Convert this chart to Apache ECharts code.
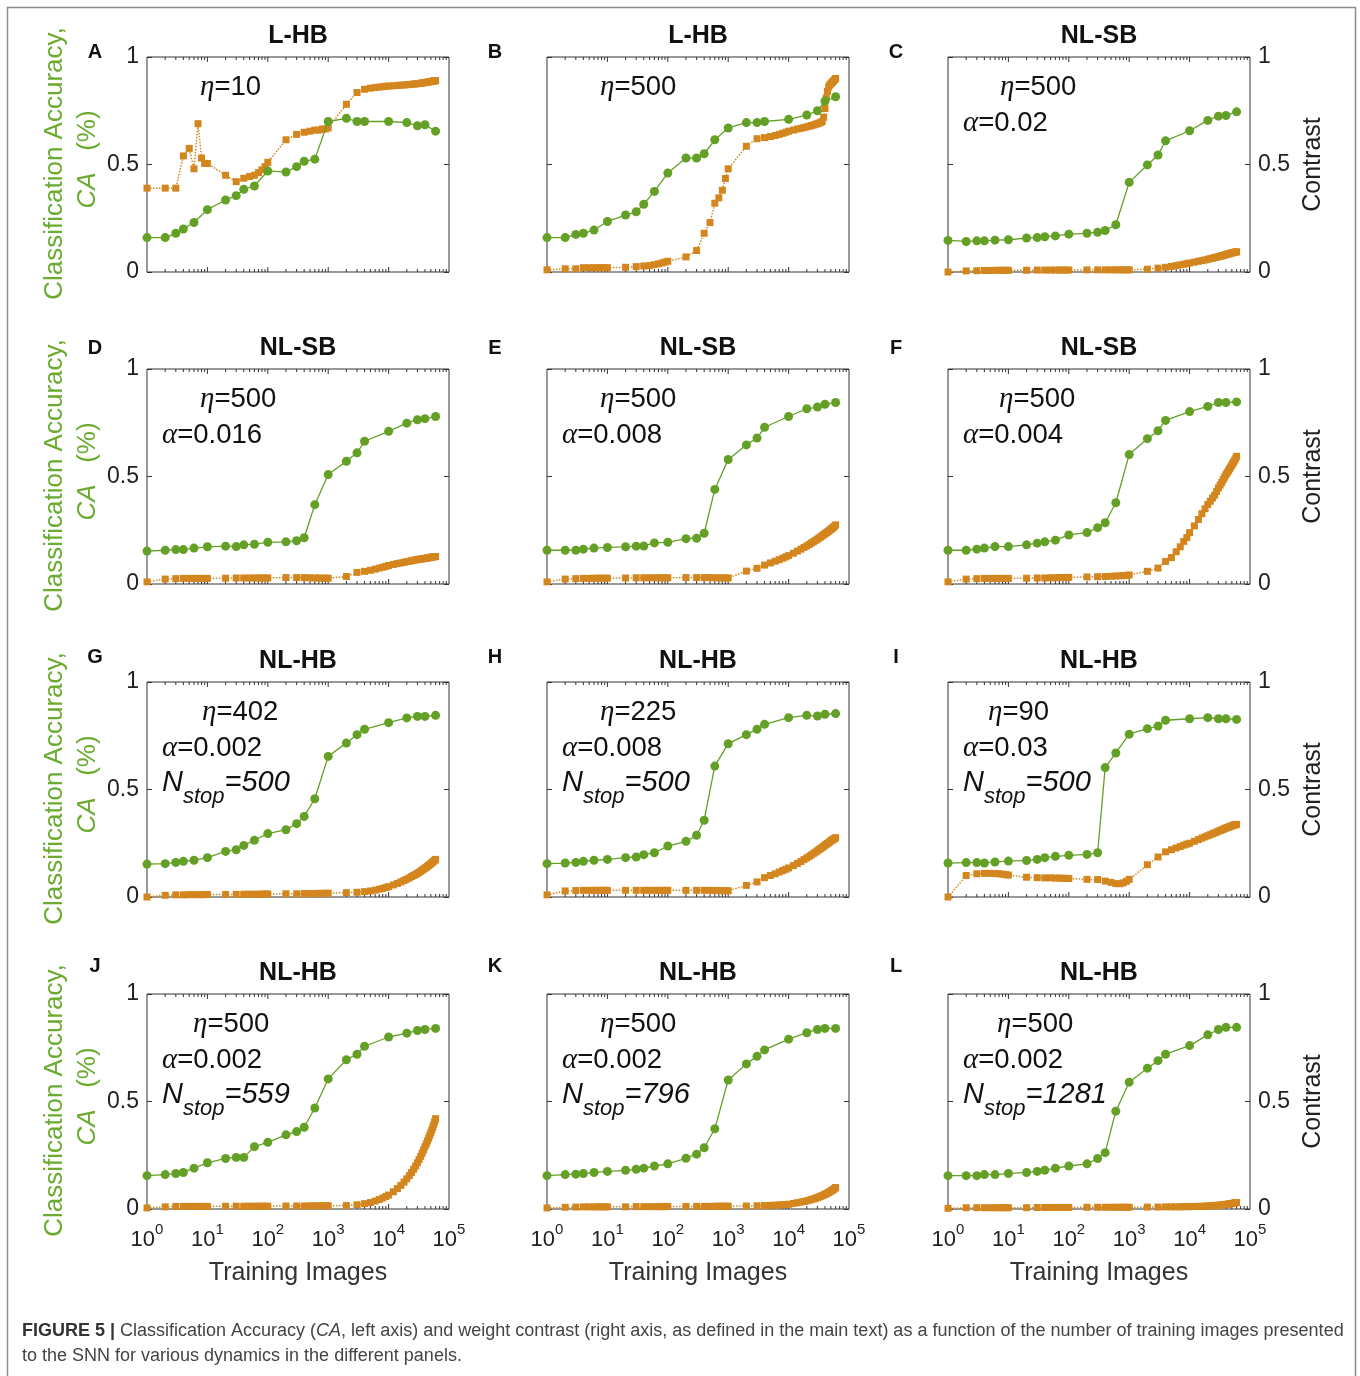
<!DOCTYPE html>
<html><head><meta charset="utf-8">
<script src="https://cdn.jsdelivr.net/npm/echarts@6/dist/echarts.min.js"></script>
<style>html,body{margin:0;padding:0;background:#fff}#c{width:1360px;height:1376px}</style>
</head><body><div id="c"></div><script>
// ---------------- DATA ----------------
const accuracyX = [1,2,3,4,6,10,20,30,40,60,100,200,300,400,600,1000,2000,3000,4000,10000,20000,30000,40000,60000];
const contrastX = [1,2,3,4,5,6,7,8,9,10,20,30,40,50,60,70,80,90,100,200,300,400,500,600,700,800,900,
  1000,2000,3000,4000,5000,6000,7000,8000,9000,
  10000,12000,14000,16000,18000,20000,22000,24000,26000,28000,30000,32000,34000,36000,38000,40000,
  42000,44000,46000,48000,50000,52000,54000,56000,58000,60000];

const panelLetters = ['A','B','C','D','E','F','G','H','I','J','K','L'];
const panelTitles = ['L-HB','L-HB','NL-SB','NL-SB','NL-SB','NL-SB','NL-HB','NL-HB','NL-HB','NL-HB','NL-HB','NL-HB'];
const etaValues = ['10','500','500','500','500','500','402','225','90','500','500','500'];
const alphaValues = [null,null,'0.02','0.016','0.008','0.004','0.002','0.008','0.03','0.002','0.002','0.002'];
const nstopValues = [null,null,null,null,null,null,'500','500','500','559','796','1281'];
const xTickValues = [1,10,100,1000,10000,100000];
const yTickLabels = ['0','0.5','1'];

const accA = [0.16,0.16,0.18,0.20,0.23,0.29,0.335,0.355,0.385,0.40,0.47,0.465,0.49,0.515,0.525,0.70,0.715,0.70,0.70,0.70,0.695,0.68,0.685,0.655];
const accB = [0.16,0.16,0.175,0.18,0.195,0.235,0.265,0.28,0.315,0.375,0.46,0.53,0.53,0.55,0.615,0.67,0.695,0.695,0.70,0.71,0.73,0.75,0.795,0.815];
const accC = [0.147,0.142,0.145,0.145,0.148,0.15,0.158,0.16,0.164,0.168,0.176,0.18,0.185,0.193,0.22,0.417,0.498,0.544,0.61,0.657,0.705,0.725,0.728,0.745];
const accD = [0.153,0.157,0.160,0.160,0.167,0.173,0.176,0.174,0.182,0.185,0.194,0.196,0.201,0.215,0.369,0.509,0.571,0.610,0.664,0.710,0.748,0.764,0.769,0.779];
const accE = [0.157,0.157,0.157,0.162,0.167,0.170,0.173,0.176,0.177,0.191,0.194,0.211,0.213,0.236,0.440,0.579,0.647,0.679,0.729,0.779,0.815,0.823,0.836,0.844];
const accF = [0.157,0.157,0.162,0.167,0.174,0.174,0.182,0.190,0.196,0.204,0.228,0.239,0.262,0.285,0.378,0.602,0.676,0.713,0.761,0.802,0.826,0.844,0.844,0.847];
const accG = [0.153,0.155,0.161,0.166,0.171,0.183,0.212,0.220,0.240,0.264,0.295,0.313,0.341,0.375,0.457,0.654,0.716,0.755,0.780,0.811,0.833,0.840,0.840,0.845];
const accH = [0.155,0.158,0.161,0.166,0.171,0.175,0.183,0.186,0.197,0.206,0.237,0.259,0.287,0.357,0.609,0.713,0.755,0.780,0.803,0.834,0.845,0.842,0.850,0.853];
const accI = [0.158,0.16,0.16,0.158,0.163,0.167,0.17,0.175,0.183,0.189,0.194,0.198,0.206,0.602,0.670,0.757,0.783,0.795,0.822,0.829,0.834,0.829,0.829,0.826];
const accJ = [0.155,0.16,0.165,0.17,0.19,0.215,0.235,0.24,0.24,0.29,0.31,0.345,0.36,0.38,0.47,0.605,0.694,0.72,0.757,0.80,0.818,0.83,0.835,0.84];
const accK = [0.155,0.16,0.162,0.165,0.17,0.175,0.18,0.185,0.19,0.20,0.21,0.236,0.255,0.285,0.373,0.60,0.675,0.71,0.74,0.79,0.82,0.835,0.84,0.84];
const accL = [0.155,0.155,0.155,0.16,0.16,0.165,0.17,0.175,0.18,0.19,0.20,0.21,0.235,0.262,0.455,0.59,0.655,0.69,0.72,0.76,0.81,0.835,0.845,0.845];

const conA = [0.39,0.39,0.39,0.54,0.575,0.48,0.69,0.53,0.505,
  0.505,0.45,0.42,0.436,0.444,0.45,0.462,0.475,0.49,
  0.51,0.615,0.64,0.65,0.655,0.66,0.66,0.665,0.665,
  0.67,0.78,0.835,0.85,0.855,0.858,0.86,0.862,0.864,
  0.865,0.866,0.868,0.869,0.870,0.871,0.872,0.873,0.874,0.875,0.876,0.877,0.878,0.879,0.880,0.881,0.882,0.883,0.884,0.885,0.886,0.887,0.888,0.889,0.889,0.890];
const conB = [0.01,0.015,0.015,0.02,0.02,0.02,0.02,0.02,0.02,
  0.02,0.022,0.025,0.028,0.03,0.034,0.038,0.042,0.046,
  0.05,0.07,0.10,0.18,0.23,0.32,0.345,0.38,0.435,
  0.48,0.585,0.62,0.625,0.63,0.635,0.64,0.645,0.65,
  0.655,0.66,0.665,0.668,0.672,0.675,0.678,0.681,0.684,0.687,0.69,0.693,0.696,0.70,0.72,0.76,0.81,0.84,0.86,0.87,0.875,0.88,0.885,0.89,0.895,0.90];
const conC = [0.0,0.005,0.006,0.007,0.007,0.008,0.008,0.008,0.008,
  0.008,0.008,0.009,0.009,0.009,0.009,0.009,0.009,0.009,
  0.009,0.01,0.01,0.01,0.01,0.01,0.01,0.01,0.01,
  0.01,0.013,0.018,0.022,0.026,0.03,0.033,0.036,0.039,
  0.042,0.046,0.05,0.053,0.056,0.059,0.062,0.064,0.067,0.069,0.071,0.073,0.075,0.077,0.079,0.081,0.083,0.084,0.086,0.087,0.089,0.09,0.091,0.092,0.093,0.094];
const conD = [0.01,0.023,0.025,0.026,0.026,0.026,0.026,0.026,0.026,
  0.026,0.027,0.028,0.028,0.028,0.028,0.028,0.028,0.028,
  0.028,0.03,0.03,0.03,0.029,0.028,0.028,0.027,0.027,
  0.027,0.035,0.054,0.059,0.064,0.069,0.074,0.078,0.082,
  0.086,0.091,0.095,0.098,0.101,0.104,0.106,0.108,0.110,0.112,0.114,0.115,0.116,0.117,0.118,0.119,0.120,0.121,0.122,0.123,0.124,0.125,0.126,0.127,0.127,0.128];
const conE = [0.01,0.023,0.025,0.026,0.026,0.027,0.027,0.027,0.027,
  0.027,0.028,0.029,0.029,0.029,0.029,0.029,0.029,0.029,
  0.029,0.03,0.03,0.03,0.03,0.029,0.029,0.028,0.028,
  0.028,0.06,0.073,0.088,0.098,0.106,0.113,0.12,0.126,
  0.132,0.143,0.153,0.162,0.17,0.177,0.184,0.191,0.197,0.203,0.209,0.214,0.219,0.224,0.229,0.234,0.238,0.242,0.246,0.25,0.254,0.258,0.262,0.266,0.27,0.275];
const conF = [0.01,0.023,0.025,0.026,0.026,0.026,0.026,0.026,0.026,
  0.026,0.027,0.028,0.028,0.029,0.029,0.03,0.03,0.03,
  0.031,0.033,0.034,0.035,0.036,0.037,0.038,0.039,0.04,
  0.042,0.059,0.074,0.105,0.123,0.15,0.173,0.198,0.216,
  0.239,0.27,0.30,0.327,0.35,0.37,0.385,0.40,0.413,0.43,0.447,0.46,0.472,0.485,0.497,0.509,0.518,0.527,0.536,0.545,0.553,0.561,0.569,0.577,0.585,0.594];
const conG = [0.0,0.008,0.01,0.01,0.011,0.011,0.011,0.011,0.011,
  0.012,0.012,0.012,0.013,0.013,0.013,0.013,0.013,0.014,
  0.014,0.015,0.015,0.016,0.016,0.016,0.017,0.017,0.017,
  0.018,0.02,0.022,0.025,0.028,0.032,0.036,0.04,0.044,
  0.048,0.056,0.063,0.07,0.077,0.083,0.089,0.095,0.1,0.105,0.11,0.115,0.12,0.125,0.13,0.134,0.138,0.143,0.147,0.151,0.155,0.159,0.163,0.167,0.171,0.175];
const conH = [0.01,0.028,0.03,0.031,0.031,0.031,0.031,0.031,0.031,
  0.031,0.031,0.031,0.031,0.031,0.031,0.031,0.031,0.031,
  0.031,0.031,0.031,0.031,0.031,0.03,0.03,0.029,0.029,
  0.029,0.054,0.07,0.09,0.1,0.108,0.116,0.123,0.129,
  0.135,0.146,0.156,0.165,0.174,0.182,0.189,0.196,0.203,0.209,0.215,0.221,0.226,0.231,0.236,0.241,0.245,0.249,0.253,0.257,0.261,0.264,0.267,0.27,0.273,0.276];
const conI = [0.0,0.10,0.108,0.11,0.11,0.109,0.108,0.106,0.104,
  0.102,0.092,0.09,0.089,0.089,0.088,0.088,0.087,0.087,
  0.086,0.082,0.081,0.074,0.068,0.062,0.062,0.066,0.073,
  0.082,0.15,0.186,0.21,0.22,0.228,0.235,0.241,0.246,
  0.25,0.259,0.267,0.274,0.28,0.285,0.29,0.294,0.298,0.302,0.306,0.309,0.312,0.315,0.318,0.321,0.323,0.325,0.327,0.329,0.331,0.333,0.334,0.335,0.337,0.338];
const conJ = [0.005,0.01,0.012,0.012,0.012,0.012,0.012,0.012,0.012,
  0.012,0.013,0.013,0.013,0.013,0.013,0.013,0.013,0.013,
  0.013,0.014,0.014,0.014,0.015,0.015,0.015,0.015,0.015,
  0.015,0.016,0.02,0.025,0.03,0.037,0.044,0.051,0.058,
  0.065,0.08,0.095,0.11,0.125,0.14,0.155,0.17,0.185,0.2,0.215,0.23,0.245,0.26,0.275,0.29,0.303,0.316,0.329,0.342,0.355,0.368,0.381,0.394,0.407,0.42];
const conK = [0.005,0.008,0.009,0.01,0.01,0.01,0.01,0.01,0.01,
  0.01,0.01,0.011,0.011,0.011,0.011,0.011,0.011,0.011,
  0.012,0.012,0.012,0.012,0.012,0.013,0.013,0.013,0.013,
  0.013,0.014,0.015,0.016,0.017,0.018,0.019,0.02,0.021,
  0.022,0.026,0.029,0.032,0.035,0.038,0.041,0.044,0.047,0.05,0.053,0.056,0.059,0.062,0.065,0.068,0.071,0.074,0.077,0.08,0.083,0.086,0.089,0.092,0.096,0.1];
const conL = [0.003,0.006,0.006,0.006,0.006,0.006,0.006,0.006,0.006,
  0.006,0.006,0.007,0.007,0.007,0.007,0.007,0.007,0.007,
  0.007,0.008,0.008,0.008,0.008,0.008,0.008,0.008,0.008,
  0.008,0.009,0.009,0.01,0.01,0.01,0.01,0.011,0.011,
  0.011,0.012,0.012,0.013,0.013,0.014,0.015,0.015,0.016,0.017,0.017,0.018,0.019,0.02,0.021,0.021,0.022,0.023,0.024,0.025,0.025,0.026,0.027,0.028,0.029,0.03];

const accuracy = [accA,accB,accC,accD,accE,accF,accG,accH,accI,accJ,accK,accL];
const contrast = [conA,conB,conC,conD,conE,conF,conG,conH,conI,conJ,conK,conL];

// ---------------- STYLE / LAYOUT ----------------
const FF = '"Liberation Sans", Arial, Helvetica, sans-serif';
const SERIF = '"Liberation Serif", "DejaVu Serif", serif';
const GREEN = '#64a026';
const GREEN_TXT = '#6aab30';
const ORANGE = '#d4861e';
const FRAME = '#333';
const colLeft = [147, 547, 948];
const rowTop = [57, 369, 682, 994];
const W = 302, H = 215;
const letterY = [52, 348, 657, 966];
const etaOffset = [53,53,52,53,53,51,55,53,40,46,53,49];

const minorTicks = [];
for (let n = 0; n < 5; n++) for (let k = 2; k <= 9; k++) minorTicks.push([k * Math.pow(10, n), 0]);
const majorTicks = [[10,1],[100,1],[1000,1],[10000,1]];
const tickData = minorTicks.concat(majorTicks);

function tickRender(params, api) {
  const v = api.value(0);
  const len = api.value(1) === 1 ? 5 : 3;
  const b = api.coord([v, 0]);
  const t = api.coord([v, 1]);
  return { type: 'group', children: [
    { type: 'line', shape: { x1: b[0], y1: b[1], x2: b[0], y2: b[1] - len }, style: { stroke: FRAME, lineWidth: 1 } },
    { type: 'line', shape: { x1: t[0], y1: t[1], x2: t[0], y2: t[1] + len }, style: { stroke: FRAME, lineWidth: 1 } }
  ]};
}

const grids = [], xAxes = [], yAxes = [], series = [], graphics = [];

for (let i = 0; i < 12; i++) {
  const row = Math.floor(i / 3), col = i % 3;
  const left = colLeft[col], top = rowTop[row];
  grids.push({ left: left, top: top, width: W, height: H, show: true, borderColor: FRAME, borderWidth: 1, backgroundColor: 'transparent' });
  xAxes.push({
    type: 'log', logBase: 10, gridIndex: i, min: 1, max: 100000,
    axisLine: { show: false }, axisTick: { show: false }, splitLine: { show: false }, minorTick: { show: false },
    axisLabel: {
      show: row === 3, margin: 13,
      formatter: function (v) { return '{b|10}{s|' + Math.round(Math.log10(v)) + '}'; },
      rich: {
        b: { fontSize: 22, color: '#222', fontFamily: FF },
        s: { fontSize: 15, color: '#222', fontFamily: FF, padding: [0, 0, 20, 0] }
      }
    },
    name: row === 3 ? 'Training Images' : '', nameLocation: 'middle', nameGap: 52,
    nameTextStyle: { fontSize: 25, color: '#333', fontFamily: FF }
  });
  const yCommon = {
    type: 'value', gridIndex: i, min: 0, max: 1, interval: 0.5,
    axisLine: { show: false }, splitLine: { show: false },
    axisTick: { show: true, inside: true, length: 5, lineStyle: { color: FRAME } }
  };
  yAxes.push(Object.assign({}, yCommon, {
    position: 'left',
    axisLabel: { show: col === 0, fontSize: 23, color: '#222', fontFamily: FF, margin: 8,
      formatter: function (v) { return yTickLabels[Math.round(v * 2)]; } }
  }));
  yAxes.push(Object.assign({}, yCommon, {
    position: 'right',
    axisLabel: { show: col === 2, fontSize: 23, color: '#222', fontFamily: FF, margin: 8,
      formatter: function (v) { return yTickLabels[Math.round(v * 2)]; } },
    name: col === 2 ? 'Contrast' : '', nameLocation: 'middle', nameRotate: 90, nameGap: 51,
    nameTextStyle: { fontSize: 25, color: '#222', fontFamily: FF }
  }));

  series.push({
    type: 'custom', xAxisIndex: i, yAxisIndex: 2 * i, data: tickData, renderItem: tickRender,
    silent: true, clip: false, z: 1
  });
  series.push({
    type: 'line', xAxisIndex: i, yAxisIndex: 2 * i + 1,
    data: contrastX.map(function (x, j) { return [x, contrast[i][j]]; }),
    symbol: 'rect', symbolSize: 7, showSymbol: true, clip: false,
    lineStyle: { type: 'dotted', width: 1.5, color: ORANGE }, itemStyle: { color: ORANGE },
    emphasis: { disabled: true }, z: 3
  });
  series.push({
    type: 'line', xAxisIndex: i, yAxisIndex: 2 * i,
    data: accuracyX.map(function (x, j) { return [x, accuracy[i][j]]; }),
    symbol: 'circle', symbolSize: 9, showSymbol: true, clip: false,
    lineStyle: { width: 1.3, color: GREEN }, itemStyle: { color: GREEN },
    emphasis: { disabled: true }, z: 4
  });

  // panel letter and title
  graphics.push({ type: 'text', x: left - 52, y: letterY[row], style: { text: panelLetters[i],
    font: 'bold 20px ' + FF, fill: '#111', align: 'center', verticalAlign: 'middle' } });
  graphics.push({ type: 'text', x: left + W / 2, y: top - 21, style: { text: panelTitles[i],
    font: 'bold 25px ' + FF, fill: '#111', align: 'center', verticalAlign: 'middle' } });

  const rich = {
    g: { font: 'italic 29px ' + SERIF, fill: '#111' },
    n: { font: '27.5px ' + FF, fill: '#111' },
    N: { font: 'italic 29px ' + FF, fill: '#111' },
    s: { font: 'italic 22px ' + FF, fill: '#111', padding: [28, 0, 0, 0] },
    m: { font: 'italic 29px ' + FF, fill: '#111' }
  };
  graphics.push({ type: 'text', x: left + etaOffset[i], y: top + 30, style: { text: '{g|η}{n|=' + etaValues[i] + '}',
    rich: rich, align: 'left', verticalAlign: 'middle' } });
  if (alphaValues[i]) {
    graphics.push({ type: 'text', x: left + 15, y: top + 66, style: { text: '{g|α}{n|=' + alphaValues[i] + '}',
      rich: rich, align: 'left', verticalAlign: 'middle' } });
  }
  if (nstopValues[i]) {
    graphics.push({ type: 'text', x: left + 15, y: top + 101, style: { text: '{N|N}{s|stop}{m|=' + nstopValues[i] + '}',
      rich: rich, align: 'left', verticalAlign: 'middle' } });
  }
  if (col === 0) {
    const cy = top + H / 2;
    graphics.push({ type: 'text', x: 55, y: cy - 1, rotation: Math.PI / 2, style: { text: 'Classification Accuracy,',
      font: '26px ' + FF, fill: GREEN_TXT, align: 'center', verticalAlign: 'middle' } });
    graphics.push({ type: 'text', x: 88, y: cy - 5, rotation: Math.PI / 2, style: { text: '{i|CA}{n|   (%)}',
      rich: { i: { font: 'italic 26px ' + FF, fill: GREEN_TXT }, n: { font: '26px ' + FF, fill: GREEN_TXT } },
      align: 'center', verticalAlign: 'middle' } });
  }
}

// outer frame and caption
graphics.push({ type: 'rect', shape: { x: 7.5, y: 7.5, width: 1348, height: 1400 }, style: { fill: 'none', stroke: '#8c8c8c', lineWidth: 1.5 }, z: -10 });
graphics.push({ type: 'text', x: 22, y: 1331, style: {
  text: '{b|FIGURE 5 |}{n| Classification Accuracy (}{i|CA}{n|, left axis) and weight contrast (right axis, as defined in the main text) as a function of the number of training images presented}',
  rich: { b: { font: 'bold 18px ' + FF, fill: '#333' }, n: { font: '18px ' + FF, fill: '#444' }, i: { font: 'italic 18px ' + FF, fill: '#444' } },
  align: 'left', verticalAlign: 'middle' } });
graphics.push({ type: 'text', x: 22, y: 1356, style: {
  text: 'to the SNN for various dynamics in the different panels.',
  font: '18px ' + FF, fill: '#444', align: 'left', verticalAlign: 'middle' } });

const chart = echarts.init(document.getElementById('c'), null, { renderer: 'canvas', width: 1360, height: 1376 });
chart.setOption({
  backgroundColor: '#fff',
  animation: false,
  grid: grids, xAxis: xAxes, yAxis: yAxes, series: series,
  graphic: { elements: graphics }
});
</script></body></html>
